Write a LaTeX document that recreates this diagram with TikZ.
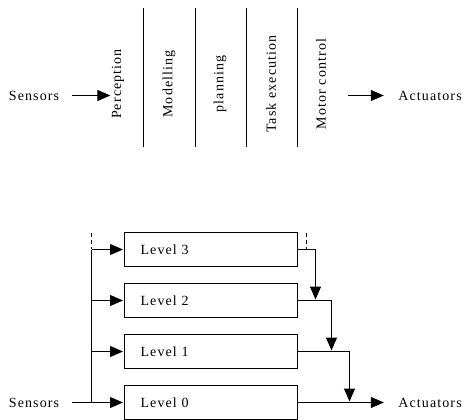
\documentclass[tikz,border=0pt]{standalone}
\usepackage{fontspec}
\setmainfont{Liberation Serif}[LetterSpace=8]
\usepackage{tikz}
\usetikzlibrary{arrows.meta,positioning}

\begin{document}
\begin{tikzpicture}[x=1pt,y=-1pt,node distance=51pt,line width=1pt,
  >={Triangle[length=13pt,width=11pt]},shorten >=1pt,
  every node/.style={font=\fontsize{14}{16}\selectfont,inner sep=0pt},
  layer/.style={rotate=90},
  level/.style={draw,minimum height=34pt,text width=141pt,
    inner xsep=16pt,align=left}]
\useasboundingbox (0,0) rectangle (464,420);

% horizontal decomposition into functional layers
\node (sens1) at (34,95.5) {Sensors};
\node[layer] (perc)  at (118,84) {Perception};
\node[layer] (model) at (169,84) {Modelling};
\node[layer] (plan)  at (220,84) {planning};
\node[layer] (task)  at (271,84) {Task execution};
\node[layer] (motor) at (321,84) {Motor control};
\node (act1) at (430,95.5) {Actuators};

\foreach \x in {143.5,195.5,246.5,297.5}
  \draw (\x,8) -- (\x,148);

\coordinate (out1) at (348,95.5);
\path[->] (sens1) edge[shorten <=12pt] (sens1 -| perc.north)
          (out1)  edge[shorten >=14pt] (act1.west);

% vertical decomposition into levels of competence
\node (sens2) at (34,402.5) {Sensors};
\node[level] (l3) at (211,249.5) {Level 3};
\node[level] (l2) [below of=l3] {Level 2};
\node[level] (l1) [below of=l2] {Level 1};
\node[level] (l0) [below of=l1] {Level 0};
\node (act2) at (430,402.5) {Actuators};

\coordinate (bus) at (91.5,233);
\coordinate (tap) at (306.5,233);
\coordinate (j2) at (315.5,300.5);
\coordinate (j1) at (331.5,351.5);
\coordinate (j0) at (349.5,402.5);

\draw[dash pattern=on 4pt off 3pt] (bus) -- (bus |- l3.west);
\draw[dash pattern=on 4pt off 3pt] (tap) -- (tap |- l3.east);
\draw (bus |- l3.west) -- (bus |- l0.west);
\draw[shorten <=12pt,shorten >=0pt] (sens2) -- (bus |- l0.west);
\foreach \n in {l3,l2,l1,l0}
  \draw[->] (bus |- \n.west) -- (\n.west);

\path[->] (l3.east) edge[to path={-| (\tikztotarget)}] (j2)
          (l2.east) edge[to path={-| (\tikztotarget)}] (j1)
          (l1.east) edge[to path={-| (\tikztotarget)}] (j0)
          (l0.east) edge[shorten >=14pt] (act2.west);
\end{tikzpicture}
\end{document}
